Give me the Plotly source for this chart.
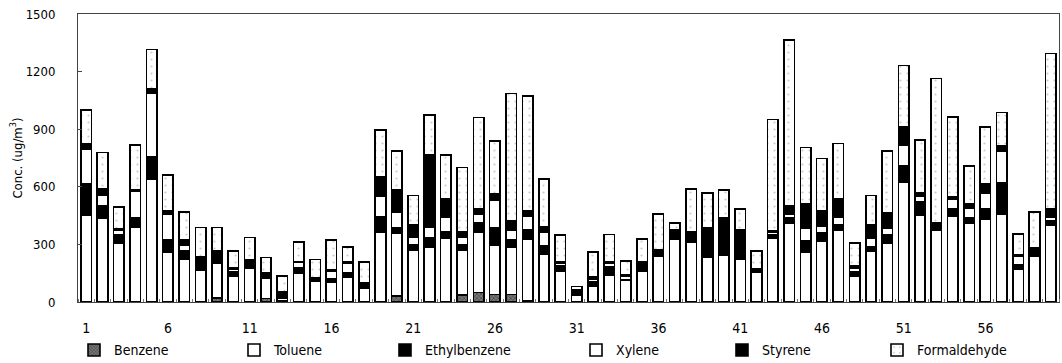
import plotly.graph_objects as go

samples = list(range(1, 61))

benzene = [0, 0, 0, 0, 0, 0, 0, 0, 20, 0,
           0, 18, 5, 0, 0, 0, 0, 0, 0, 31,
           0, 0, 0, 36, 49, 40, 40, 5, 0, 0,
           0, 0, 0, 0, 0, 0, 0, 0, 0, 0,
           0, 0, 0, 0, 0, 0, 0, 0, 0, 0,
           0, 0, 0, 0, 0, 0, 0, 0, 0, 0]
toluene = [450, 436, 307, 392, 641, 262, 222, 167, 183, 135,
           175, 105, 17, 151, 106, 101, 128, 71, 366, 327,
           271, 288, 332, 235, 312, 257, 245, 321, 250, 163,
           36, 80, 141, 111, 163, 236, 326, 314, 233, 245,
           222, 153, 332, 410, 262, 319, 375, 132, 267, 306,
           622, 453, 375, 448, 410, 431, 458, 170, 240, 401]
ethylbenzene = [168, 66, 42, 49, 116, 61, 44, 24, 28, 22,
                25, 12, 24, 26, 10, 22, 25, 23, 78, 26,
                26, 44, 34, 26, 49, 87, 41, 52, 42, 24,
                21, 26, 43, 7, 21, 15, 22, 22, 150, 29,
                5, 12, 17, 26, 56, 42, 26, 26, 21, 43,
                86, 70, 20, 40, 31, 53, 164, 23, 20, 23]
xylene = [177, 52, 26, 134, 333, 135, 31, 8, 5, 12,
          5, 5, 3, 30, 5, 40, 50, 3, 105, 83,
          43, 60, 78, 43, 48, 144, 49, 70, 74, 14,
          3, 12, 17, 14, 9, 5, 5, 8, 3, 5,
          5, 2, 14, 22, 66, 35, 43, 17, 44, 35,
          110, 26, 5, 47, 47, 82, 161, 47, 5, 20]
styrene = [31, 35, 8, 8, 18, 16, 29, 35, 29, 8,
           17, 13, 3, 5, 7, 4, 4, 3, 104, 116,
           61, 374, 96, 26, 30, 38, 49, 26, 26, 9,
           3, 14, 9, 9, 14, 15, 22, 22, 3, 157,
           142, 8, 9, 42, 130, 78, 92, 14, 69, 83,
           95, 20, 10, 14, 21, 49, 30, 8, 15, 39]
formaldehyde = [174, 189, 113, 236, 208, 187, 144, 155, 124, 90,
                115, 78, 83, 102, 94, 156, 81, 107, 243, 205,
                153, 208, 226, 335, 472, 273, 663, 599, 249, 139,
                17, 130, 142, 74, 121, 187, 38, 223, 180, 147,
                110, 92, 579, 865, 290, 274, 290, 117, 153, 319,
                318, 275, 755, 416, 199, 295, 175, 106, 190, 812]

x_tickvals = [1, 6, 11, 16, 21, 26, 31, 36, 41, 46, 51, 56]
y_tickvals = [0, 300, 600, 900, 1200, 1500]

FONT = "DejaVu Sans Condensed, Liberation Sans Narrow, Liberation Sans, Arial, sans-serif"

W, H = 1062, 363
ML, MR, MT, MB = 78, 3, 14, 61
PW = W - ML - MR

series = [
    ("Benzene", benzene, dict(color="#555555",
                              pattern=dict(shape="x", fgcolor="#111111", bgcolor="#777777", size=3, solidity=0.4))),
    ("Toluene", toluene, dict(color="white")),
    ("Ethylbenzene", ethylbenzene, dict(color="black")),
    ("Xylene", xylene, dict(color="white")),
    ("Styrene", styrene, dict(color="black")),
    ("Formaldehyde", formaldehyde, dict(color="white",
                                        pattern=dict(shape=".", fgcolor="#9a9a9a", bgcolor="white", size=7, solidity=0.08))),
]
# left pixel of each legend entry's text in the reference
legend_text_px = [112, 272, 423, 614, 760, 915]

fig = go.Figure()
legend_layouts = {}
for i, (name, vals, mk) in enumerate(series):
    mk = dict(mk)
    mk["line"] = dict(color="black", width=1.6)
    lname = "legend" if i == 0 else f"legend{i + 1}"
    fig.add_trace(go.Bar(x=samples, y=vals, name=name, marker=mk, legend=lname))
    legend_layouts[lname] = dict(
        x=(legend_text_px[i] - 38 - ML) / PW, xanchor="left",
        y=-0.168, yanchor="middle", orientation="h",
        font=dict(family=FONT, size=14), bgcolor="rgba(0,0,0,0)",
        borderwidth=0,
    )

fig.update_layout(
    barmode="stack",
    bargap=0.36,
    width=W, height=H,
    margin=dict(l=ML, r=MR, t=MT, b=MB, pad=0, autoexpand=False),
    paper_bgcolor="white", plot_bgcolor="white",
    font=dict(family=FONT, size=13, color="black"),
    showlegend=True,
    xaxis=dict(range=[0.5, 60.5], tickmode="array", tickvals=x_tickvals,
               ticktext=[str(v) for v in x_tickvals],
               showline=True, linecolor="#444444", linewidth=1, mirror=True,
               ticks="", ticklabelstandoff=13, showgrid=False, zeroline=False,
               minor=dict(ticks="inside", ticklen=3, tick0=0.5, dtick=1, tickcolor="#777777", showgrid=False),
               tickfont=dict(size=14)),
    yaxis=dict(range=[0, 1500], tickmode="array", tickvals=y_tickvals,
               showline=True, linecolor="#444444", linewidth=1, mirror=True,
               ticks="inside", ticklen=4, tickcolor="#444444",
               ticklabelstandoff=19, showgrid=False, zeroline=False,
               title=dict(text="Conc. (ug/m<sup>3</sup>)", standoff=0, font=dict(size=13)),
               tickfont=dict(size=13)),
    **legend_layouts,
)

fig.write_html("out.html", config={"displayModeBar": False},
               post_script="document.body.style.margin='0';document.body.style.overflow='hidden';")
